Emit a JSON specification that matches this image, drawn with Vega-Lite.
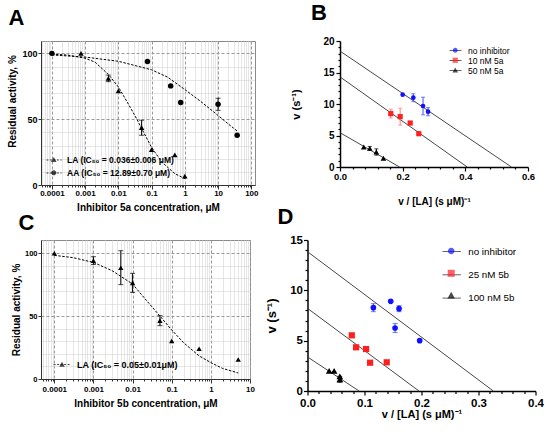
{
  "$schema": "https://vega.github.io/schema/vega-lite/v6.json",
  "padding": {"left": 6, "top": 2, "right": 0, "bottom": 0},
  "columns": 1,
  "align": "none",
  "spacing": -7,
  "datasets": {
    "a_pts": [
      {"s": "LA", "x": 0.00075, "y": 100},
      {"s": "LA", "x": 0.005, "y": 81, "err": 2.5},
      {"s": "LA", "x": 0.01, "y": 71.5},
      {"s": "LA", "x": 0.05, "y": 43.5, "err": 5.7},
      {"s": "LA", "x": 0.1, "y": 26.8},
      {"s": "LA", "x": 0.5, "y": 22.8},
      {"s": "LA", "x": 1, "y": 6.8},
      {"s": "AA", "x": 0.0001, "y": 100},
      {"s": "AA", "x": 0.075, "y": 93.9},
      {"s": "AA", "x": 0.375, "y": 75.3},
      {"s": "AA", "x": 0.75, "y": 62.6},
      {"s": "AA", "x": 10, "y": 61.3, "err": 4.6},
      {"s": "AA", "x": 37.5, "y": 37.8}
    ],
    "a_fit": [
      {"s": "LA", "x": 0.0001, "y": 99.5},
      {"s": "LA", "x": 0.0003, "y": 98.7},
      {"s": "LA", "x": 0.001, "y": 96.3},
      {"s": "LA", "x": 0.002, "y": 93.3},
      {"s": "LA", "x": 0.005, "y": 84},
      {"s": "LA", "x": 0.01, "y": 74.5},
      {"s": "LA", "x": 0.02, "y": 61.5},
      {"s": "LA", "x": 0.036, "y": 50},
      {"s": "LA", "x": 0.05, "y": 43},
      {"s": "LA", "x": 0.1, "y": 28.5},
      {"s": "LA", "x": 0.2, "y": 17.6},
      {"s": "LA", "x": 0.5, "y": 8.6},
      {"s": "LA", "x": 1, "y": 4.8},
      {"s": "AA", "x": 0.0001, "y": 98.8},
      {"s": "AA", "x": 0.001, "y": 97.2},
      {"s": "AA", "x": 0.01, "y": 94},
      {"s": "AA", "x": 0.1, "y": 87.5},
      {"s": "AA", "x": 0.3, "y": 82},
      {"s": "AA", "x": 1, "y": 72.5},
      {"s": "AA", "x": 3, "y": 63.5},
      {"s": "AA", "x": 10, "y": 52.8},
      {"s": "AA", "x": 20, "y": 46.5},
      {"s": "AA", "x": 37.5, "y": 41}
    ],
    "c_pts": [
      {"s": "LA", "x": 0.0001, "y": 100},
      {"s": "LA", "x": 0.001, "y": 94.1, "err": 3.1},
      {"s": "LA", "x": 0.005, "y": 88.5, "err": 13.5},
      {"s": "LA", "x": 0.01, "y": 76.4, "err": 7.6},
      {"s": "LA", "x": 0.05, "y": 46.4, "err": 4},
      {"s": "LA", "x": 0.1, "y": 30.3},
      {"s": "LA", "x": 0.5, "y": 24.1},
      {"s": "LA", "x": 5, "y": 15.5}
    ],
    "c_fit": [
      {"x": 0.0001, "y": 98.3},
      {"x": 0.0003, "y": 96.5},
      {"x": 0.001, "y": 92.7},
      {"x": 0.003, "y": 86.1},
      {"x": 0.01, "y": 75.5},
      {"x": 0.02, "y": 64.4},
      {"x": 0.05, "y": 50},
      {"x": 0.1, "y": 39},
      {"x": 0.2, "y": 28.9},
      {"x": 0.5, "y": 18.4},
      {"x": 1, "y": 13},
      {"x": 2, "y": 8.4},
      {"x": 5, "y": 4.8}
    ],
    "b_pts": [
      {"s": "no inhibitor", "x": 0.2, "y": 11.48},
      {"s": "no inhibitor", "x": 0.234, "y": 11.0, "err": 0.63},
      {"s": "no inhibitor", "x": 0.265, "y": 9.68, "err": 1.4},
      {"s": "no inhibitor", "x": 0.281, "y": 8.78, "err": 0.65},
      {"s": "10 nM 5a", "x": 0.162, "y": 8.47, "err": 0.7},
      {"s": "10 nM 5a", "x": 0.192, "y": 7.99, "err": 1.35},
      {"s": "10 nM 5a", "x": 0.224, "y": 6.98},
      {"s": "10 nM 5a", "x": 0.2515, "y": 5.29},
      {"s": "50 nM 5a", "x": 0.0757, "y": 3.17},
      {"s": "50 nM 5a", "x": 0.095, "y": 2.96, "err": 0.3},
      {"s": "50 nM 5a", "x": 0.116, "y": 2.38, "err": 0.5},
      {"s": "50 nM 5a", "x": 0.1385, "y": 1.38}
    ],
    "b_lines": [
      {"s": "no inhibitor", "x": 0, "y": 18.4},
      {"s": "no inhibitor", "x": 0.547, "y": 0},
      {"s": "10 nM 5a", "x": 0, "y": 14.3},
      {"s": "10 nM 5a", "x": 0.406, "y": 0},
      {"s": "50 nM 5a", "x": 0, "y": 5.45},
      {"s": "50 nM 5a", "x": 0.19, "y": 0}
    ],
    "d_pts": [
      {"s": "no inhibitor", "x": 0.1156, "y": 8.28, "err": 0.4},
      {"s": "no inhibitor", "x": 0.146, "y": 8.91},
      {"s": "no inhibitor", "x": 0.1606, "y": 8.18, "err": 0.3},
      {"s": "no inhibitor", "x": 0.1536, "y": 6.26, "err": 0.45},
      {"s": "no inhibitor", "x": 0.1968, "y": 5.0},
      {"s": "25 nM 5b", "x": 0.0777, "y": 5.53},
      {"s": "25 nM 5b", "x": 0.0853, "y": 4.34},
      {"s": "25 nM 5b", "x": 0.1028, "y": 4.17},
      {"s": "25 nM 5b", "x": 0.1098, "y": 2.81},
      {"s": "25 nM 5b", "x": 0.139, "y": 2.85},
      {"s": "100 nM 5b", "x": 0.038, "y": 1.99},
      {"s": "100 nM 5b", "x": 0.0467, "y": 1.99},
      {"s": "100 nM 5b", "x": 0.0567, "y": 1.46},
      {"s": "100 nM 5b", "x": 0.0567, "y": 1.16, "err": 0.3}
    ],
    "d_lines": [
      {"s": "no inhibitor", "x": 0, "y": 13.84},
      {"s": "no inhibitor", "x": 0.326, "y": 0},
      {"s": "25 nM 5b", "x": 0, "y": 8.21},
      {"s": "25 nM 5b", "x": 0.1956, "y": 0},
      {"s": "100 nM 5b", "x": 0, "y": 3.38},
      {"s": "100 nM 5b", "x": 0.0905, "y": 0}
    ]
  },
  "concat": [
    {
      "columns": 2,
      "align": "none",
      "spacing": 31,
      "concat": [
        {
          "width": 214,
          "height": 144,
          "view": {"stroke": "#8a8a8a"},
          "title": {"text": "A", "fontSize": 22, "frame": "group", "dx": -32.5, "offset": 11},
          "resolve": {"scale": {"shape": "independent"}, "axis": {"y": "independent"}},
          "layer": [
            {
              "data": {"name": "a_fit"},
              "mark": {"type": "line", "opacity": 0},
              "encoding": {
                "x": {"field": "x", "type": "quantitative"},
                "y": {
                  "field": "y", "type": "quantitative",
                  "axis": {"orient": "left", "values": [10, 20, 30, 40, 60, 70, 80, 90], "labels": false, "ticks": false, "domain": false, "title": null, "grid": true, "gridDash": [1, 1], "gridColor": "#cdcdcd"}
                }
              }
            },
            {
              "data": {"name": "a_fit"},
              "mark": {"type": "line", "color": "black", "strokeDash": [2.5, 1.5], "strokeWidth": 1},
              "encoding": {
                "x": {
                  "field": "x", "type": "quantitative",
                  "scale": {"type": "log", "domain": [0.000047, 129], "nice": false, "padding": 0},
                  "axis": {
                    "title": "Inhibitor 5a concentration, μM", "titleFontSize": 10, "titlePadding": 5,
                    "values": [0.00005, 0.00006, 0.00007, 0.00008, 0.00009, 0.0001, 0.0002, 0.0003, 0.0004, 0.0005, 0.0006, 0.0007, 0.0008, 0.0009, 0.001, 0.002, 0.003, 0.004, 0.005, 0.006, 0.007, 0.008, 0.009, 0.01, 0.02, 0.03, 0.04, 0.05, 0.06, 0.07, 0.08, 0.09, 0.1, 0.2, 0.3, 0.4, 0.5, 0.6, 0.7, 0.8, 0.9, 1, 2, 3, 4, 5, 6, 7, 8, 9, 10, 20, 30, 40, 50, 60, 70, 80, 90, 100],
                    "labelExpr": "abs(log(datum.value)/LN10 - round(log(datum.value)/LN10)) < 0.01 ? format(datum.value, '~g') : ''",
                    "labelOverlap": false, "labelFlush": false, "labelFontSize": 8, "labelPadding": 0,
                    "tickSize": {"condition": {"test": "abs(log(datum.value)/LN10 - round(log(datum.value)/LN10)) < 0.01", "value": 4}, "value": 2},
                    "grid": true,
                    "gridDash": {"condition": {"test": "abs(log(datum.value)/LN10 - round(log(datum.value)/LN10)) < 0.01", "value": [3, 2]}, "value": [1, 1]},
                    "gridColor": {"condition": {"test": "abs(log(datum.value)/LN10 - round(log(datum.value)/LN10)) < 0.01", "value": "#9a9a9a"}, "value": "#cdcdcd"},
                    "domainColor": "#333", "tickColor": "#333"
                  }
                },
                "y": {
                  "field": "y", "type": "quantitative",
                  "scale": {"domain": [0, 109.4], "nice": false, "padding": 0},
                  "axis": {
                    "orient": "left",
                    "title": "Residual activity, %", "titleFontSize": 10, "titleX": -23.5, "titleY": 60,
                    "values": [0, 50, 100],
                    "labelFontSize": 9, "labelPadding": 1, "tickSize": 3,
                    "grid": true, "gridDash": [3, 2], "gridColor": "#9a9a9a",
                    "domainColor": "#333", "tickColor": "#333"
                  }
                },
                "detail": {"field": "s"}
              }
            },
            {
              "data": {"name": "a_pts"},
              "transform": [{"filter": "datum.err > 0"}],
              "mark": {"type": "errorbar", "color": "black", "thickness": 1, "ticks": {"size": 5, "thickness": 1}},
              "encoding": {
                "x": {"field": "x", "type": "quantitative"},
                "y": {"field": "y", "type": "quantitative", "axis": null},
                "yError": {"field": "err"}
              }
            },
            {
              "data": {"name": "a_pts"},
              "mark": {"type": "point", "filled": true, "opacity": 1, "color": "black", "size": 30},
              "encoding": {
                "x": {"field": "x", "type": "quantitative"},
                "y": {"field": "y", "type": "quantitative", "axis": null},
                "shape": {"field": "s", "type": "nominal", "scale": {"domain": ["LA", "AA"], "range": ["triangle-up", "circle"]}, "legend": null}
              }
            },
            {
              "data": {"name": "a_pts"},
              "transform": [{"filter": "false"}],
              "mark": {"type": "point", "filled": false, "color": "black"},
              "encoding": {
                "shape": {
                  "field": "s", "type": "nominal",
                  "scale": {"domain": ["LA (IC₅₀ = 0.036±0.006 μM)", "AA (IC₅₀ = 12.89±0.70 μM)"], "range": ["M-1.9,0H1.9", "M-1.9,0H1.9"]},
                  "legend": {"orient": "none", "legendX": 8.5, "legendY": 114.5, "title": null, "padding": 0, "symbolSize": 64, "symbolDash": [2, 1.5], "symbolStrokeColor": "black", "symbolStrokeWidth": 1, "symbolFillColor": "transparent", "labelFontSize": 8.5, "labelFontWeight": "bold", "labelOffset": 8.5, "rowPadding": 4}
                }
              }
            },
            {
              "data": {"name": "a_pts"},
              "transform": [{"filter": "false"}],
              "mark": {"type": "point", "filled": true, "color": "black"},
              "encoding": {
                "shape": {
                  "field": "s", "type": "nominal",
                  "scale": {"domain": ["LA (IC₅₀ = 0.036±0.006 μM)", "AA (IC₅₀ = 12.89±0.70 μM)"], "range": ["M0,-0.7L0.7,0.55H-0.7Z", "M-0.65,0A0.65,0.65,0,1,1,0.65,0A0.65,0.65,0,1,1,-0.65,0Z"]},
                  "legend": {"orient": "none", "legendX": 8.5, "legendY": 114.5, "title": null, "padding": 0, "symbolSize": 64, "symbolStrokeWidth": 0, "symbolFillColor": "black", "labelFontSize": 8.5, "labelFontWeight": "bold", "labelOffset": 8.5, "rowPadding": 4, "labelExpr": "''"}
                }
              }
            }
          ]
        },
        {
          "width": 188,
          "height": 126,
          "title": {"text": "B", "fontSize": 22, "frame": "group", "dx": -29, "offset": 11},
          "resolve": {"scale": {"shape": "independent", "color": "independent", "size": "independent"}, "axis": {"x": "independent", "y": "independent"}},
          "layer": [
            {
              "data": {"name": "b_lines"},
              "mark": {"type": "line", "opacity": 0},
              "encoding": {
                "x": {
                  "field": "x", "type": "quantitative",
                  "axis": {"orient": "bottom", "values": [0.04, 0.08, 0.12, 0.16, 0.24, 0.28, 0.32, 0.36, 0.44, 0.48, 0.52, 0.56], "labels": false, "domain": false, "title": null, "tickSize": 2, "tickWidth": 1.2}
                },
                "y": {
                  "field": "y", "type": "quantitative",
                  "axis": {"orient": "left", "values": [1, 2, 3, 4, 6, 7, 8, 9, 11, 12, 13, 14, 16, 17, 18, 19], "labels": false, "domain": false, "title": null, "tickSize": 2, "tickWidth": 1.2}
                }
              }
            },
            {
              "data": {"name": "b_lines"},
              "mark": {"type": "line", "color": "#333", "strokeWidth": 0.9},
              "encoding": {
                "x": {
                  "field": "x", "type": "quantitative",
                  "scale": {"domain": [0, 0.6], "nice": false, "padding": 0},
                  "axis": {
                    "orient": "bottom",
                    "title": "v / [LA] (s μM)⁻¹", "titleFontSize": 10, "titlePadding": 16,
                    "values": [0, 0.2, 0.4, 0.6], "format": ".1f", "labelFlush": false,
                    "labelFontSize": 9.5, "labelPadding": 0, "tickSize": 4,
                    "domainWidth": 1.5, "tickWidth": 1.2
                  }
                },
                "y": {
                  "field": "y", "type": "quantitative",
                  "scale": {"domain": [0, 20], "nice": false, "padding": 0},
                  "axis": {
                    "orient": "left",
                    "title": "v (s⁻¹)", "titleFontSize": 11, "titlePadding": 21,
                    "values": [0, 5, 10, 15, 20],
                    "labelFontSize": 10, "labelPadding": 2, "tickSize": 4,
                    "domainWidth": 1.5, "tickWidth": 1.2
                  }
                },
                "detail": {"field": "s"}
              }
            },
            {
              "data": {"name": "b_pts"},
              "transform": [{"filter": "datum.err > 0"}],
              "mark": {"type": "errorbar", "thickness": 1, "ticks": {"size": 4, "thickness": 1}},
              "encoding": {
                "x": {"field": "x", "type": "quantitative", "axis": null},
                "y": {"field": "y", "type": "quantitative", "axis": null},
                "yError": {"field": "err"},
                "color": {"field": "s", "type": "nominal", "scale": {"domain": ["no inhibitor", "10 nM 5a", "50 nM 5a"], "range": ["#3a4dff", "#ff7a7a", "black"]}, "legend": null}
              }
            },
            {
              "data": {"name": "b_pts"},
              "mark": {"type": "point", "filled": true, "opacity": 1},
              "encoding": {
                "x": {"field": "x", "type": "quantitative", "axis": null},
                "y": {"field": "y", "type": "quantitative", "axis": null},
                "shape": {"field": "s", "type": "nominal", "scale": {"domain": ["no inhibitor", "10 nM 5a", "50 nM 5a"], "range": ["circle", "square", "triangle-up"]}, "legend": null},
                "color": {"field": "s", "type": "nominal", "scale": {"domain": ["no inhibitor", "10 nM 5a", "50 nM 5a"], "range": ["#1010ff", "#ff1f1f", "black"]}, "legend": null},
                "size": {"field": "s", "type": "ordinal", "scale": {"domain": ["no inhibitor", "10 nM 5a", "50 nM 5a"], "range": [22, 32, 22]}, "legend": null}
              }
            },
            {
              "data": {"name": "b_pts"},
              "transform": [{"filter": "false"}],
              "mark": {"type": "point", "filled": false, "color": "black"},
              "encoding": {
                "shape": {
                  "field": "s", "type": "nominal",
                  "scale": {"domain": ["no inhibitor", "10 nM 5a", "50 nM 5a"], "range": ["M-1.5,0H1.5", "M-1.5,0H1.5", "M-1.5,0H1.5"]},
                  "legend": {"orient": "none", "legendX": 111, "legendY": 5, "title": null, "padding": 0, "symbolSize": 64, "symbolStrokeColor": "#222", "symbolStrokeWidth": 1, "symbolFillColor": "transparent", "labelFontSize": 8.5, "labelOffset": 8, "rowPadding": 1}
                }
              }
            },
            {
              "data": {"name": "b_pts"},
              "transform": [{"filter": "false"}],
              "mark": {"type": "point", "filled": true},
              "encoding": {
                "shape": {
                  "field": "s", "type": "nominal",
                  "scale": {"domain": ["no inhibitor", "10 nM 5a", "50 nM 5a"], "range": ["M-0.6,0A0.6,0.6,0,1,1,0.6,0A0.6,0.6,0,1,1,-0.6,0Z", "M-0.65,-0.65H0.65V0.65H-0.65Z", "M0,-0.7L0.7,0.55H-0.7Z"]},
                  "legend": {"orient": "none", "legendX": 111, "legendY": 5, "title": null, "padding": 0, "symbolSize": 64, "symbolStrokeWidth": 0, "labelFontSize": 8.5, "labelOffset": 8, "rowPadding": 1, "labelExpr": "''"}
                },
                "color": {
                  "field": "s", "type": "nominal",
                  "scale": {"domain": ["no inhibitor", "10 nM 5a", "50 nM 5a"], "range": ["#1010ff", "#ff1f1f", "black"]},
                  "legend": {"orient": "none", "legendX": 111, "legendY": 5, "title": null, "padding": 0, "symbolSize": 64, "symbolStrokeWidth": 0, "labelFontSize": 8.5, "labelOffset": 8, "rowPadding": 1, "labelExpr": "''"}
                }
              }
            }
          ]
        }
      ]
    },
    {
      "spacing": 10.5,
      "hconcat": [
        {
          "width": 209,
          "height": 139,
          "view": {"stroke": "#8a8a8a"},
          "title": {"text": "C", "fontSize": 22, "frame": "group", "dx": -22.5, "offset": 5},
          "resolve": {"scale": {"shape": "independent"}, "axis": {"y": "independent"}},
          "layer": [
            {
              "data": {"name": "c_fit"},
              "mark": {"type": "line", "opacity": 0},
              "encoding": {
                "x": {"field": "x", "type": "quantitative"},
                "y": {
                  "field": "y", "type": "quantitative",
                  "axis": {"orient": "left", "values": [10, 20, 30, 40, 60, 70, 80, 90], "labels": false, "ticks": false, "domain": false, "title": null, "grid": true, "gridDash": [1, 1], "gridColor": "#cdcdcd"}
                }
              }
            },
            {
              "data": {"name": "c_fit"},
              "mark": {"type": "line", "color": "black", "strokeDash": [2.5, 1.5], "strokeWidth": 1},
              "encoding": {
                "x": {
                  "field": "x", "type": "quantitative",
                  "scale": {"type": "log", "domain": [0.0000457, 10], "nice": false, "padding": 0},
                  "axis": {
                    "title": "Inhibitor 5b concentration, μM", "titleFontSize": 10, "titlePadding": 5,
                    "values": [0.00005, 0.00006, 0.00007, 0.00008, 0.00009, 0.0001, 0.0002, 0.0003, 0.0004, 0.0005, 0.0006, 0.0007, 0.0008, 0.0009, 0.001, 0.002, 0.003, 0.004, 0.005, 0.006, 0.007, 0.008, 0.009, 0.01, 0.02, 0.03, 0.04, 0.05, 0.06, 0.07, 0.08, 0.09, 0.1, 0.2, 0.3, 0.4, 0.5, 0.6, 0.7, 0.8, 0.9, 1, 2, 3, 4, 5, 6, 7, 8, 9, 10],
                    "labelExpr": "abs(log(datum.value)/LN10 - round(log(datum.value)/LN10)) < 0.01 ? format(datum.value, '~g') : ''",
                    "labelOverlap": false, "labelFlush": false, "labelFontSize": 8, "labelPadding": 2,
                    "tickSize": {"condition": {"test": "abs(log(datum.value)/LN10 - round(log(datum.value)/LN10)) < 0.01", "value": 4}, "value": 2},
                    "grid": true,
                    "gridDash": {"condition": {"test": "abs(log(datum.value)/LN10 - round(log(datum.value)/LN10)) < 0.01", "value": [3, 2]}, "value": [1, 1]},
                    "gridColor": {"condition": {"test": "abs(log(datum.value)/LN10 - round(log(datum.value)/LN10)) < 0.01", "value": "#9a9a9a"}, "value": "#cdcdcd"},
                    "domainColor": "#333", "tickColor": "#333"
                  }
                },
                "y": {
                  "field": "y", "type": "quantitative",
                  "scale": {"domain": [0, 110.5], "nice": false, "padding": 0},
                  "axis": {
                    "orient": "left",
                    "title": "Residual activity, %", "titleFontSize": 10, "titleX": -20,
                    "values": [0, 50, 100],
                    "labelFontSize": 7.5, "labelPadding": 1, "tickSize": 3,
                    "grid": true, "gridDash": [3, 2], "gridColor": "#9a9a9a",
                    "domainColor": "#333", "tickColor": "#333"
                  }
                }
              }
            },
            {
              "data": {"name": "c_pts"},
              "transform": [{"filter": "datum.err > 0"}],
              "mark": {"type": "errorbar", "color": "black", "thickness": 1, "ticks": {"size": 5, "thickness": 1}},
              "encoding": {
                "x": {"field": "x", "type": "quantitative"},
                "y": {"field": "y", "type": "quantitative", "axis": null},
                "yError": {"field": "err"}
              }
            },
            {
              "data": {"name": "c_pts"},
              "mark": {"type": "point", "filled": true, "opacity": 1, "color": "black", "size": 28, "shape": "triangle-up"},
              "encoding": {
                "x": {"field": "x", "type": "quantitative"},
                "y": {"field": "y", "type": "quantitative", "axis": null}
              }
            },
            {
              "data": {"name": "c_pts"},
              "transform": [{"filter": "false"}],
              "mark": {"type": "point", "filled": false, "color": "black"},
              "encoding": {
                "shape": {
                  "field": "s", "type": "nominal",
                  "scale": {"domain": ["LA (IC₅₀ = 0.05±0.01μM)"], "range": ["M-2.1,0H2.1"]},
                  "legend": {"orient": "none", "legendX": 16.5, "legendY": 120, "title": null, "padding": 0, "symbolSize": 64, "symbolDash": [2, 1.5], "symbolStrokeColor": "black", "symbolStrokeWidth": 1, "symbolFillColor": "transparent", "labelFontSize": 9, "labelFontWeight": "bold", "labelOffset": 10.5}
                }
              }
            },
            {
              "data": {"name": "c_pts"},
              "transform": [{"filter": "false"}],
              "mark": {"type": "point", "filled": true, "color": "black"},
              "encoding": {
                "shape": {
                  "field": "s", "type": "nominal",
                  "scale": {"domain": ["LA (IC₅₀ = 0.05±0.01μM)"], "range": ["M0,-0.7L0.7,0.55H-0.7Z"]},
                  "legend": {"orient": "none", "legendX": 16.5, "legendY": 120, "title": null, "padding": 0, "symbolSize": 64, "symbolStrokeWidth": 0, "symbolFillColor": "black", "labelFontSize": 9, "labelFontWeight": "bold", "labelOffset": 10.5, "labelExpr": "''"}
                }
              }
            }
          ]
        },
        {
          "width": 228,
          "height": 151,
          "title": {"text": "D", "fontSize": 22, "frame": "group", "dx": -30, "offset": 5},
          "resolve": {"scale": {"shape": "independent", "color": "independent", "size": "independent"}, "axis": {"x": "independent", "y": "independent"}},
          "layer": [
            {
              "data": {"name": "d_lines"},
              "mark": {"type": "line", "opacity": 0},
              "encoding": {
                "x": {
                  "field": "x", "type": "quantitative",
                  "axis": {"orient": "bottom", "values": [0.02, 0.04, 0.06, 0.08, 0.12, 0.14, 0.16, 0.18, 0.22, 0.24, 0.26, 0.28, 0.32, 0.34, 0.36, 0.38], "labels": false, "domain": false, "title": null, "tickSize": 2.5, "tickWidth": 1.2}
                },
                "y": {
                  "field": "y", "type": "quantitative",
                  "axis": {"orient": "left", "values": [1, 2, 3, 4, 6, 7, 8, 9, 11, 12, 13, 14], "labels": false, "domain": false, "title": null, "tickSize": 2.5, "tickWidth": 1.2}
                }
              }
            },
            {
              "data": {"name": "d_lines"},
              "mark": {"type": "line", "color": "#333", "strokeWidth": 0.9},
              "encoding": {
                "x": {
                  "field": "x", "type": "quantitative",
                  "scale": {"domain": [0, 0.4], "nice": false, "padding": 0},
                  "axis": {
                    "orient": "bottom",
                    "title": "v / [LA] (s μM)⁻¹", "titleFontSize": 11, "titlePadding": 0,
                    "values": [0, 0.1, 0.2, 0.3, 0.4], "format": ".1f", "labelFlush": false,
                    "labelFontSize": 11.5, "labelPadding": 2, "tickSize": 4,
                    "domainWidth": 1.5, "tickWidth": 1.2
                  }
                },
                "y": {
                  "field": "y", "type": "quantitative",
                  "scale": {"domain": [0, 15], "nice": false, "padding": 0},
                  "axis": {
                    "orient": "left",
                    "title": "v (s⁻¹)", "titleFontSize": 13, "titlePadding": 11,
                    "values": [0, 5, 10, 15],
                    "labelFontSize": 11.5, "labelPadding": 1, "tickSize": 4,
                    "domainWidth": 1.5, "tickWidth": 1.2
                  }
                },
                "detail": {"field": "s"}
              }
            },
            {
              "data": {"name": "d_pts"},
              "transform": [{"filter": "datum.err > 0"}],
              "mark": {"type": "errorbar", "thickness": 1, "ticks": {"size": 5, "thickness": 1}},
              "encoding": {
                "x": {"field": "x", "type": "quantitative", "axis": null},
                "y": {"field": "y", "type": "quantitative", "axis": null},
                "yError": {"field": "err"},
                "color": {"field": "s", "type": "nominal", "scale": {"domain": ["no inhibitor", "25 nM 5b", "100 nM 5b"], "range": ["#3a4dff", "#ff7a7a", "black"]}, "legend": null}
              }
            },
            {
              "data": {"name": "d_pts"},
              "mark": {"type": "point", "filled": true, "opacity": 1},
              "encoding": {
                "x": {"field": "x", "type": "quantitative", "axis": null},
                "y": {"field": "y", "type": "quantitative", "axis": null},
                "shape": {"field": "s", "type": "nominal", "scale": {"domain": ["no inhibitor", "25 nM 5b", "100 nM 5b"], "range": ["circle", "square", "triangle-up"]}, "legend": null},
                "color": {"field": "s", "type": "nominal", "scale": {"domain": ["no inhibitor", "25 nM 5b", "100 nM 5b"], "range": ["#1010ff", "#ff1f1f", "black"]}, "legend": null},
                "size": {"field": "s", "type": "ordinal", "scale": {"domain": ["no inhibitor", "25 nM 5b", "100 nM 5b"], "range": [32, 45, 36]}, "legend": null}
              }
            },
            {
              "data": {"name": "d_pts"},
              "transform": [{"filter": "false"}],
              "mark": {"type": "point", "filled": false, "color": "black"},
              "encoding": {
                "shape": {
                  "field": "s", "type": "nominal",
                  "scale": {"domain": ["no inhibitor", "25 nM 5b", "100 nM 5b"], "range": ["M-1.84,0H1.84", "M-1.84,0H1.84", "M-1.84,0H1.84"]},
                  "legend": {"orient": "none", "legendX": 138.7, "legendY": 6, "title": null, "padding": 0, "symbolSize": 100, "symbolStrokeColor": "#222", "symbolStrokeWidth": 1, "symbolFillColor": "transparent", "labelFontSize": 9.8, "labelOffset": 11, "rowPadding": 12.3}
                }
              }
            },
            {
              "data": {"name": "d_pts"},
              "transform": [{"filter": "false"}],
              "mark": {"type": "point", "filled": true},
              "encoding": {
                "shape": {
                  "field": "s", "type": "nominal",
                  "scale": {"domain": ["no inhibitor", "25 nM 5b", "100 nM 5b"], "range": ["M-0.65,0A0.65,0.65,0,1,1,0.65,0A0.65,0.65,0,1,1,-0.65,0Z", "M-0.7,-0.7H0.7V0.7H-0.7Z", "M0,-0.75L0.75,0.6H-0.75Z"]},
                  "legend": {"orient": "none", "legendX": 138.7, "legendY": 6, "title": null, "padding": 0, "symbolSize": 100, "symbolStrokeWidth": 0, "labelFontSize": 9.8, "labelOffset": 11, "rowPadding": 12.3, "labelExpr": "''"}
                },
                "color": {
                  "field": "s", "type": "nominal",
                  "scale": {"domain": ["no inhibitor", "25 nM 5b", "100 nM 5b"], "range": ["#1010ff", "#ff1f1f", "black"]},
                  "legend": {"orient": "none", "legendX": 138.7, "legendY": 6, "title": null, "padding": 0, "symbolSize": 100, "symbolStrokeWidth": 0, "labelFontSize": 9.8, "labelOffset": 11, "rowPadding": 12.3, "labelExpr": "''"}
                }
              }
            }
          ]
        }
      ]
    }
  ],
  "config": {
    "font": "Liberation Sans",
    "view": {"stroke": null},
    "axis": {"labelFontWeight": "bold", "titleFontWeight": "bold", "labelColor": "black", "titleColor": "black", "domainColor": "black", "tickColor": "black", "grid": false, "labelFont": "Liberation Sans", "titleFont": "Liberation Sans"},
    "legend": {"labelFont": "Liberation Sans", "labelColor": "black"},
    "title": {"fontWeight": "bold", "anchor": "start", "color": "black", "font": "Liberation Sans"}
  }
}
